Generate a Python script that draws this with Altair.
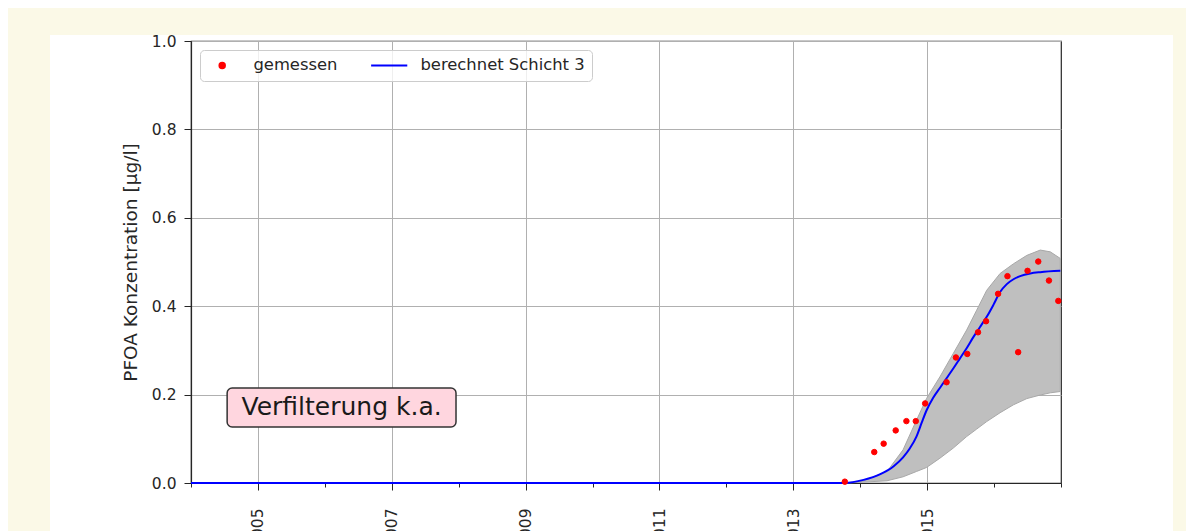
import altair as alt
import pandas as pd

# ---------------- data ----------------
series_names = ["gemessen", "berechnet Schicht 3"]
series_colors = ["#ff0000", "#0000ff"]

# measured values (red dots)
meas_year = [2013.77, 2014.21, 2014.35, 2014.53, 2014.69, 2014.83, 2014.97,
             2015.29, 2015.43, 2015.60, 2015.76, 2015.88, 2016.06, 2016.20,
             2016.36, 2016.50, 2016.66, 2016.82, 2016.96]
meas_value = [0.003, 0.070, 0.089, 0.119, 0.140, 0.140, 0.180,
              0.228, 0.284, 0.292, 0.341, 0.366, 0.428, 0.468,
              0.296, 0.480, 0.501, 0.458, 0.412]

# calculated curve (blue line)
calc_year = [2004.0, 2013.77, 2014.05, 2014.30, 2014.50, 2014.64, 2014.74,
             2014.84, 2014.92, 2014.99, 2015.09, 2015.19, 2015.29, 2015.39,
             2015.49, 2015.59, 2015.69, 2015.79, 2015.89, 2015.99, 2016.09,
             2016.19, 2016.29, 2016.39, 2016.54, 2016.69, 2016.99]
calc_value = [0.0, 0.0, 0.007, 0.020, 0.038, 0.058, 0.078,
              0.105, 0.137, 0.164, 0.193, 0.215, 0.237, 0.259,
              0.282, 0.305, 0.330, 0.353, 0.376, 0.403, 0.432,
              0.450, 0.461, 0.468, 0.474, 0.477, 0.480]

# uncertainty band (grey)
band_year = [2013.77, 2014.05, 2014.40, 2014.64, 2014.84, 2014.99, 2015.19,
             2015.39, 2015.59, 2015.74, 2015.89, 2016.09, 2016.29, 2016.49,
             2016.69, 2016.84, 2016.99]
band_upper = [0.0, 0.005, 0.026, 0.075, 0.142, 0.191, 0.240,
              0.293, 0.346, 0.391, 0.436, 0.474, 0.496, 0.515,
              0.527, 0.523, 0.508]
band_lower = [0.0, 0.002, 0.005, 0.014, 0.026, 0.035, 0.056,
              0.079, 0.105, 0.122, 0.139, 0.159, 0.177, 0.191,
              0.199, 0.204, 0.207]

y_ticks = [0.0, 0.2, 0.4, 0.6, 0.8, 1.0]
x_minor_ticks = [2004 + 0.25 * i for i in range(53)]
annotation_text = "Verfilterung k.a."
y_title = "PFOA Konzentration [µg/l]"

# ---------------- tables ----------------
meas_df = pd.DataFrame({"year": meas_year, "value": meas_value, "series": series_names[0]})
calc_df = pd.DataFrame({"year": calc_year, "value": calc_value, "series": series_names[1]})
band_df = pd.DataFrame({"year": band_year, "lower": band_lower, "upper": band_upper})
ann_df = pd.DataFrame({"x": [2004.54], "x2": [2007.96], "y": [0.2147], "y2": [0.1266],
                       "tx": [2006.25], "ty": [0.171], "text": [annotation_text]})

FONT = "DejaVu Sans"
TXT = "#262626"
CREAM = "#fbf9e7"

major_test = ("abs(datum.value - round(datum.value)) < 0.01 && "
              "round(datum.value) % 2 == 1 && datum.value < 2016.5")

x_scale = alt.Scale(domain=[2004, 2017], nice=False, zero=False)
y_scale = alt.Scale(domain=[0, 1], nice=False)

x_axis = alt.Axis(
    values=x_minor_ticks,
    labelExpr=f"({major_test}) ? '' + round(datum.value) : ''",
    labelAngle=-90, labelFont=FONT, labelFontSize=15.5, labelColor=TXT,
    labelOverlap=False, labelFlush=False, labelPadding=18,
    tickColor=TXT, tickWidth=1,
    tickSize={"condition": {"test": major_test, "value": 7}, "value": 4},
    grid=True,
    gridColor={"condition": {"test": major_test, "value": "#b0b0b0"}, "value": "transparent"},
    gridWidth=1,
    domainColor=TXT, domainWidth=1.2, title=None,
)
y_axis = alt.Axis(
    values=y_ticks, format=".1f",
    labelFont=FONT, labelFontSize=15.5, labelColor=TXT, labelPadding=8,
    tickColor=TXT, tickSize=7, tickWidth=1,
    grid=True, gridColor="#b0b0b0", gridWidth=1,
    domainColor=TXT, domainWidth=1.2,
    title=y_title, titleFont=FONT, titleFontSize=18.5, titleFontWeight="normal",
    titleColor=TXT, titlePadding=11,
)

legend = alt.Legend(
    title=None, orient="top-left", offset=9, direction="horizontal",
    labelFont=FONT, labelFontSize=16.4, labelColor=TXT, labelLimit=400,
    symbolSize=30, symbolOffset=7, labelOffset=23, columnPadding=29,
    padding=7, symbolStrokeWidth=2,
    fillColor="rgba(255,255,255,0.8)", strokeColor="#cccccc", cornerRadius=4,
)
fill_scale = alt.Scale(domain=series_names, range=series_colors)
# second legend shape: a horizontal line of 36 px at symbol size 30
shape_scale = alt.Scale(domain=series_names, range=["circle", "M-6.6,0H6.6"])

# decorative page panels (cream around a white card)
def strip(x, x2, y, y2):
    return alt.Chart(pd.DataFrame({"k": [0]})).mark_rect(color=CREAM).encode(
        x=alt.value(x), x2=alt.value(x2), y=alt.value(y), y2=alt.value(y2))

strips = strip(-190, -141, -40, 500) + strip(-190, 1000, -40, -6) + strip(982, 1000, -40, 500)

band = alt.Chart(band_df).mark_area(color="#bfbfbf", stroke="#a8a8a8", strokeWidth=1, opacity=1).encode(
    x=alt.X("year:Q", scale=x_scale, axis=x_axis),
    y=alt.Y("lower:Q", scale=y_scale, axis=y_axis),
    y2="upper:Q",
)

line = alt.Chart(calc_df).mark_line(strokeWidth=2, interpolate="monotone").encode(
    x="year:Q", y="value:Q",
    stroke=alt.Stroke("series:N", scale=fill_scale, legend=legend),
)

points = alt.Chart(meas_df).mark_point(filled=True, opacity=1, strokeWidth=1, size=30).encode(
    x="year:Q", y="value:Q",
    fill=alt.Fill("series:N", scale=fill_scale, legend=legend),
    stroke=alt.Stroke("series:N", scale=fill_scale, legend=legend),
    shape=alt.Shape("series:N", scale=shape_scale, legend=legend),
)

ann_box = alt.Chart(ann_df).mark_rect(fill="#ffd6df", stroke="#333333", strokeWidth=1.5, cornerRadius=5).encode(
    x="x:Q", x2="x2", y="y:Q", y2="y2")
ann_text = alt.Chart(ann_df).mark_text(font=FONT, fontSize=25, color="#1a1a1a", baseline="middle").encode(
    x="tx:Q", y="ty:Q", text="text:N")

chart = alt.layer(strips, band, line, points, ann_box, ann_text).properties(
    width=870, height=442,
    padding={"left": 183, "top": 33, "right": 125, "bottom": 48},
    autosize=alt.AutoSizeParams(type="none"),
    background="white",
).configure_view(stroke="#262626", strokeWidth=1.2)

chart.save("out.html", embed_options={"renderer": "svg", "actions": False})
